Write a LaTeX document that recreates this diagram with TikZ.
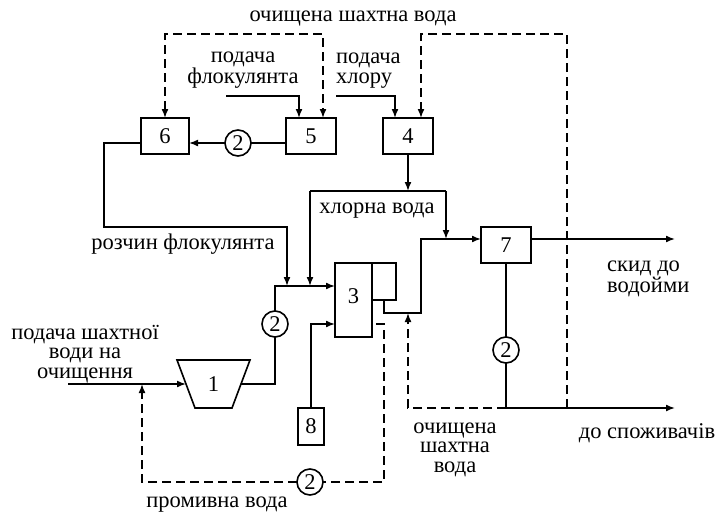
\documentclass[tikz,border=0pt]{standalone}
\usepackage{fontspec}
\setmainfont{Liberation Serif}
\usetikzlibrary{arrows.meta}
\begin{document}
\begin{tikzpicture}[x=1pt,y=-1pt,
  every node/.style={font=\fontsize{22.5pt}{19.5pt}\selectfont},
  ln/.style={line width=1.6pt},
  tipx/.tip={Latex[length=9pt,width=7pt]},
  arr/.style={ln,-tipx},
  dsh/.style={ln,dash pattern=on 9pt off 5pt},
  darr/.style={dsh,-tipx},
  blk/.style={draw,line width=1.6pt,inner sep=0pt,outer sep=0pt},
  pmp/.style={circle,draw,line width=1.6pt,minimum size=26pt,inner sep=0pt,outer sep=0pt},
  lbl/.style={anchor=base,inner sep=0pt}]
\useasboundingbox (0,0) rectangle (719,514);

% boxes
\node[blk,minimum width=48pt,minimum height=36pt] (b6) at (165,136) {6};
\node[blk,minimum width=50pt,minimum height=36pt] (b5) at (311,136) {5};
\node[blk,minimum width=50pt,minimum height=36pt] (b4) at (408,136) {4};
\node[blk,minimum width=37pt,minimum height=74pt] (b3) at (353.5,300) {\raisebox{7pt}{3}};
\node[blk,minimum width=24pt,minimum height=37pt,anchor=north west] (b3s) at (b3.north east) {};
\node[blk,minimum width=50pt,minimum height=36pt] (b7) at (506,245) {7};
\node[blk,minimum width=26pt,minimum height=37pt] (b8) at (311,426.5) {8};

% pump 1
\draw[ln] (177,360) -- (250,360) -- (232,408) -- (195,408) -- cycle;
\node (n1) at (213.5,384) {1};
\coordinate (p1l) at (186,384);
\coordinate (p1r) at (241,384);

% pumps 2
\node[pmp] (c1) at (238,143) {2};
\node[pmp] (c2) at (275,324) {2};
\node[pmp] (c3) at (506,350) {2};
\node[pmp] (c4) at (310,482) {2};

% coordinates
\coordinate (feed) at (68,384);
\coordinate (in3a) at ([yshift=14pt]b3.west);
\coordinate (in3b) at ([yshift=-24pt]b3.west);
\coordinate (r1) at (104,227);
\coordinate (r2) at (287,286);
\coordinate (h1) at (408,191);
\coordinate (h1l) at (310,191);
\coordinate (h1r) at (446,191);
\coordinate (h2) at (310,286);
\coordinate (h3) at (446,239);
\coordinate (o1) at (384,313);
\coordinate (o2) at (421,239);
\coordinate (e1) at (675,239);
\coordinate (e2) at (506,408);
\coordinate (e3) at (675,408);
\coordinate (d1) at (376,324);
\coordinate (d2) at (384,482);
\coordinate (d3) at (142,384);
\coordinate (d4) at (408,313);
\coordinate (t1) at (567,408);
\coordinate (t2) at (421,34);
\coordinate (t3) at (165,34);
\coordinate (f1) at (226,96);
\coordinate (f2) at (336,96);

% solid connectors
\draw[arr] (feed) -- (p1l);
\draw[ln] (p1r) -| (c2);
\draw[arr] (c2) |- (in3a);
\draw[ln] ([yshift=-7pt]b5.west) -- (c1);
\draw[arr] (c1) -- ([yshift=-7pt]b6.east);
\draw[arr] ([yshift=-7pt]b6.west) -| (r1) -| (r2);
\draw[arr] (b4.south) -- (h1);
\draw[ln] (h1l) -- (h1r);
\draw[arr] (h1l) -- (h2);
\draw[arr] (h1r) -- (h3);
\draw[arr] (b3s.south) -- (o1) -| (o2) -- ([yshift=6pt]b7.west);
\draw[arr] ([yshift=6pt]b7.east) -- (e1);
\draw[ln] (b7.south) -- (c3);
\draw[ln] (c3) -- (e2);
\draw[arr] (e2) -- (e3);
\draw[arr] (b8.north) |- (in3b);
\draw[arr] (f1) -| ([xshift=-12pt]b5.north);
\draw[arr] (f2) -| ([xshift=-13pt]b4.north);

% dashed connectors
\draw[dsh] (d1) -| (d2) -- (c4);
\draw[darr] (c4) -| (d3);
\draw[darr] (e2) -| (d4);
\draw[darr] (t1) |- (t2) -- ([xshift=13pt]b4.north);
\draw[dsh,tipx-tipx] (b6.north) -- (t3) -| ([xshift=12pt]b5.north);

% labels (base = baseline of the last line)
\node[lbl] (l1) at (353,21) {очищена шахтна вода};
\node[lbl,align=center] (l2) at (243,83) {подача\\флокулянта};
\node[lbl,anchor=base west,align=left] (l4) at (336,83) {подача\\хлору};
\node[lbl] (l6) at (377,213) {хлорна вода};
\node[lbl] (l7) at (183,249) {розчин флокулянта};
\node[lbl,align=center] (l8) at (85,378) {подача шахтної\\води на\\очищення};
\node[lbl] (l11) at (217,507) {промивна вода};
\node[lbl,anchor=base west,align=left] (l12) at (607,292) {скид до\\водойми};
\node[lbl] (l14) at (647,438) {до споживачів};
\node[lbl,align=center] (l15) at (455,472) {очищена\\шахтна\\вода};
\end{tikzpicture}
\end{document}
